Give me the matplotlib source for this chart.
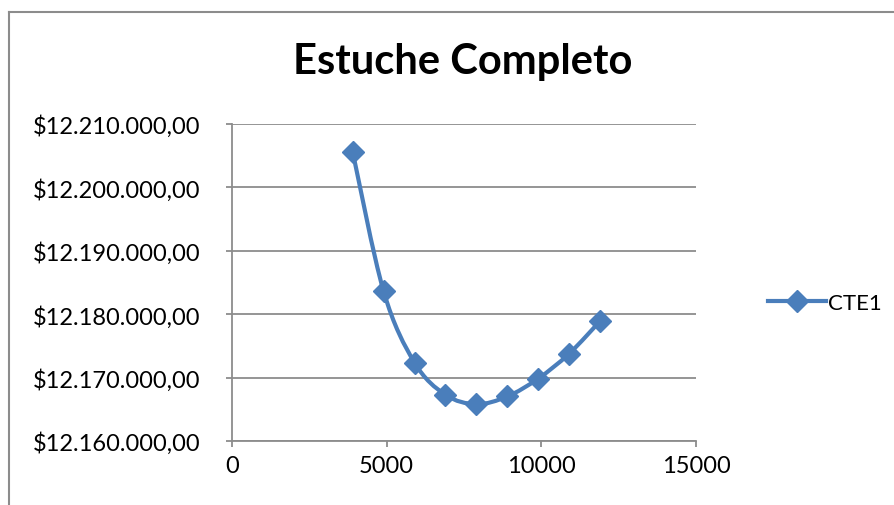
import matplotlib
matplotlib.use("Agg")
import matplotlib.pyplot as plt
from matplotlib.path import Path
from matplotlib.patches import PathPatch
from matplotlib.lines import Line2D
import numpy as np

# Data
x_vals = [3900, 4900, 5900, 6900, 7900, 8900, 9900, 10900, 11900]
y_vals = [12205590, 12183610, 12172355, 12167284, 12165808, 12167017,
          12169843, 12173768, 12178901]
series_name = "CTE1"
title = "Estuche Completo"
y_ticks = [12160000, 12170000, 12180000, 12190000, 12200000, 12210000]
x_ticks = [0, 5000, 10000, 15000]

FONT = ["Lato", "DejaVu Sans"]
plt.rcParams['font.family'] = FONT

W, H = 895, 506
PX = 72 / 100  # points per pixel
fig = plt.figure(figsize=(W / 100, H / 100), dpi=100)
ax = fig.add_axes([232 / W, 1 - 442 / H, (696 - 232) / W, (442 - 124.7) / H])

color = "#4A7EBB"
grid_c = "#8C8C8C"

# smooth curve (Catmull-Rom -> cubic Bezier), like Excel smoothed line
px = np.array(x_vals, float)
py = np.array(y_vals, float)
verts = [(px[0], py[0])]
codes = [Path.MOVETO]
n = len(px)
for i in range(n - 1):
    p0 = np.array([px[max(i - 1, 0)], py[max(i - 1, 0)]])
    p1 = np.array([px[i], py[i]])
    p2 = np.array([px[i + 1], py[i + 1]])
    p3 = np.array([px[min(i + 2, n - 1)], py[min(i + 2, n - 1)]])
    c1 = p1 + (p2 - p0) / 6
    c2 = p2 - (p3 - p1) / 6
    verts += [tuple(c1), tuple(c2), tuple(p2)]
    codes += [Path.CURVE4] * 3
patch = PathPatch(Path(verts, codes), facecolor="none", edgecolor=color,
                  lw=3.0, capstyle="round", joinstyle="round", zorder=3)
ax.add_patch(patch)
ax.plot(x_vals, y_vals, linestyle="none", marker="D", markersize=11,
        color=color, zorder=4)

ax.set_xlim(0, 15000)
ax.set_ylim(12160000, 12210000)
ax.set_xticks(x_ticks)
ax.set_yticks(y_ticks)
ax.set_xticklabels([str(v) for v in x_ticks])


def fmt(v):
    s = f"{v:,.2f}"
    s = s.replace(",", "X").replace(".", ",").replace("X", ".")
    return "$" + s


ax.set_yticklabels([fmt(v) for v in y_ticks])
ax.yaxis.grid(True, color=grid_c, lw=1.3)
ax.set_axisbelow(True)
for s in ["top", "right"]:
    ax.spines[s].set_visible(False)
for s in ["left", "bottom"]:
    ax.spines[s].set_color(grid_c)
    ax.spines[s].set_linewidth(1.3)
ax.tick_params(axis="both", colors=grid_c, length=6 * PX, width=1.3,
               labelcolor="black", labelsize=17)
ax.tick_params(axis="y", pad=26 * PX)
ax.tick_params(axis="x", pad=8 * PX)

fig.text(463 / W, 1 - 62 / H, title, ha="center", va="center",
         fontsize=30, fontweight="bold", family=FONT)

# legend
handle = Line2D([], [], color=color, lw=3.0, marker="D", markersize=11)
fig.legend([handle], [series_name], loc="center left",
           bbox_to_anchor=(768 / W, 1 - 304 / H), frameon=False,
           fontsize=16, handlelength=2.6, handletextpad=0.1,
           borderaxespad=0, borderpad=0)

# chart border (partial, as cropped)
fig.add_artist(Line2D([8.5 / W, 8.5 / W], [0, 1 - 12.5 / H],
                      transform=fig.transFigure, color=grid_c, lw=1.5))
fig.add_artist(Line2D([8.5 / W, 1], [1 - 12.5 / H, 1 - 12.5 / H],
                      transform=fig.transFigure, color=grid_c, lw=1.5))

fig.savefig("out.png", dpi=100)
